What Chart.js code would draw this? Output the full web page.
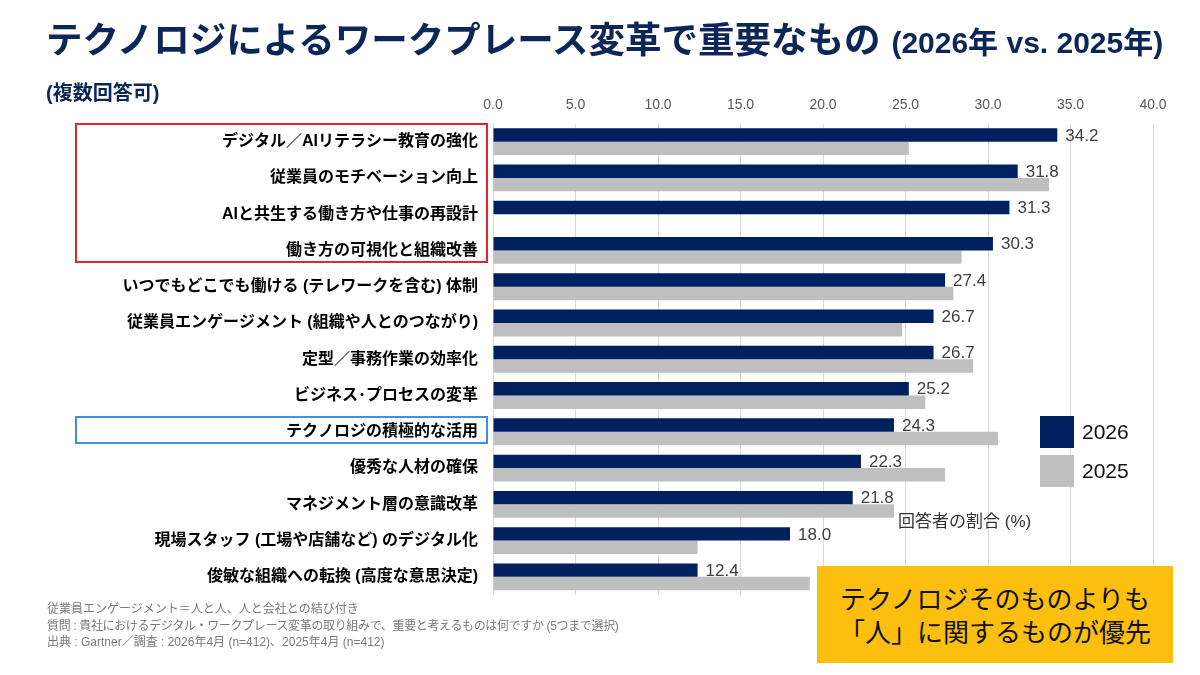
<!DOCTYPE html>
<html lang="ja">
<head>
<meta charset="utf-8">
<script src="https://cdn.jsdelivr.net/npm/chart.js@4.4.1/dist/chart.umd.min.js"></script>
<style>
  html, body { margin: 0; padding: 0; background: #fff; }
  #wrap { position: relative; width: 1200px; height: 675px; overflow: hidden; font-family: "Liberation Sans", "Noto Sans CJK JP", sans-serif; }
  #c { position: absolute; left: 0; top: 0; }
  .abs { position: absolute; white-space: nowrap; }
  #title { left: 46px; top: 16px; font-size: 36.5px; font-weight: bold; color: #0c2657; line-height: 44px; font-family: "Noto Sans CJK JP", sans-serif; }
  #title span { font-family: "Liberation Sans", "Noto Sans CJK JP", sans-serif; font-size: 30px; margin-left: 11px; }
  #sub { left: 46px; top: 80px; font-size: 20px; font-weight: bold; color: #0c2657; line-height: 26px; }
  .box { position: absolute; box-sizing: border-box; }
  #red { left: 75px; top: 123px; width: 413px; height: 140px; border: 2px solid #e3262b; }
  #blue { left: 75px; top: 416px; width: 413px; height: 28px; border: 2px solid #3d8fe8; }
  .lg { position: absolute; width: 34px; height: 32px; }
  .lgt { position: absolute; font-size: 21px; color: #111; line-height: 24px; }
  #axt { left: 898px; top: 511px; font-size: 17px; color: #333; line-height: 22px; }
  #note { left: 47px; top: 601px; font-size: 12px; color: #7a7a7a; line-height: 16.5px; }
  #note .tight { letter-spacing: -0.35px; }
  #yellow { left: 817px; top: 566px; width: 356px; height: 97px; background: #fcbf10; }
  #yellow div { position: absolute; left: 0; width: 356px; text-align: center; font-family: "Noto Sans CJK JP", sans-serif; font-size: 26px; color: #111; line-height: 32px; }
</style>
</head>
<body>
<div id="wrap">
  <canvas id="c" width="1200" height="675"></canvas>
  <div id="title" class="abs">テクノロジによるワークプレース変革で重要なもの<span>(2026年 vs. 2025年)</span></div>
  <div id="sub" class="abs">(複数回答可)</div>
  <div id="red" class="box"></div>
  <div id="blue" class="box"></div>
  <div class="lg" style="left:1040px; top:416px; background:#002060;"></div>
  <div class="lgt" style="left:1082px; top:420px;">2026</div>
  <div class="lg" style="left:1040px; top:455px; background:#bfbfbf;"></div>
  <div class="lgt" style="left:1082px; top:459px;">2025</div>
  <div id="axt" class="abs">回答者の割合 (%)</div>
  <div id="note" class="abs">従業員エンゲージメント＝人と人、人と会社との結び付き<br><span class="tight">質問 : 貴社におけるデジタル・ワークプレース変革の取り組みで、重要と考えるものは何ですか (5つまで選択)</span><br>出典 : Gartner／調査 : 2026年4月 (n=412)、2025年4月 (n=412)</div>
  <div id="yellow" class="abs"><div style="top:16px;">テクノロジそのものよりも</div><div style="top:49px;">「人」に関するものが優先</div></div>
</div>
<script>
const categories = [
  "デジタル／AIリテラシー教育の強化",
  "従業員のモチベーション向上",
  "AIと共生する働き方や仕事の再設計",
  "働き方の可視化と組織改善",
  "いつでもどこでも働ける (テレワークを含む) 体制",
  "従業員エンゲージメント (組織や人とのつながり)",
  "定型／事務作業の効率化",
  "ビジネス･プロセスの変革",
  "テクノロジの積極的な活用",
  "優秀な人材の確保",
  "マネジメント層の意識改革",
  "現場スタッフ (工場や店舗など) のデジタル化",
  "俊敏な組織への転換 (高度な意思決定)"
];
const values2026 = [34.2, 31.8, 31.3, 30.3, 27.4, 26.7, 26.7, 25.2, 24.3, 22.3, 21.8, 18.0, 12.4];
const values2025 = [25.2, 33.7, null, 28.4, 27.9, 24.8, 29.1, 26.2, 30.6, 27.4, 24.3, 12.4, 19.2];
const seriesNames = ["2026", "2025"];
const axisMin = 0, axisMax = 40, axisStep = 5;

const valueLabels = {
  id: 'valueLabels',
  afterDatasetsDraw(chart) {
    const ctx = chart.ctx;
    const meta = chart.getDatasetMeta(0);
    ctx.save();
    ctx.font = '17px "Liberation Sans", sans-serif';
    ctx.fillStyle = '#404040';
    ctx.textAlign = 'left';
    ctx.textBaseline = 'middle';
    meta.data.forEach((el, i) => {
      const v = values2026[i];
      if (v == null) return;
      ctx.fillText(v.toFixed(1), el.x + 8, el.y + 1);
    });
    ctx.restore();
  }
};

new Chart(document.getElementById('c'), {
  type: 'bar',
  data: {
    labels: categories,
    datasets: [
      { label: seriesNames[0], data: values2026, backgroundColor: '#002060', borderWidth: 0 },
      { label: seriesNames[1], data: values2025, backgroundColor: '#bfbfbf', borderWidth: 0 }
    ]
  },
  options: {
    indexAxis: 'y',
    responsive: false,
    animation: false,
    devicePixelRatio: 1,
    layout: { padding: { top: 88, bottom: 80, left: 0, right: 47 } },
    datasets: { bar: { categoryPercentage: 0.74, barPercentage: 1.0 } },
    plugins: { legend: { display: false }, tooltip: { enabled: false } },
    scales: {
      x: {
        position: 'top',
        min: axisMin, max: axisMax,
        afterFit(scale) { scale.height = 35.5; },
        ticks: {
          stepSize: axisStep,
          callback: (v) => Number(v).toFixed(1),
          color: '#595959',
          font: { family: '"Liberation Sans", sans-serif', size: 14 },
          padding: 10
        },
        grid: { color: '#d9d9d9', lineWidth: 1, drawTicks: false },
        border: { display: false }
      },
      y: {
        afterFit(scale) { scale.width = 493; },
        ticks: {
          color: '#000',
          font: { family: '"Liberation Sans", "Noto Sans CJK JP", sans-serif', size: 16, weight: 'bold' },
          padding: 7
        },
        grid: { display: false },
        border: { display: false }
      }
    }
  },
  plugins: [valueLabels]
});
</script>
</body>
</html>
